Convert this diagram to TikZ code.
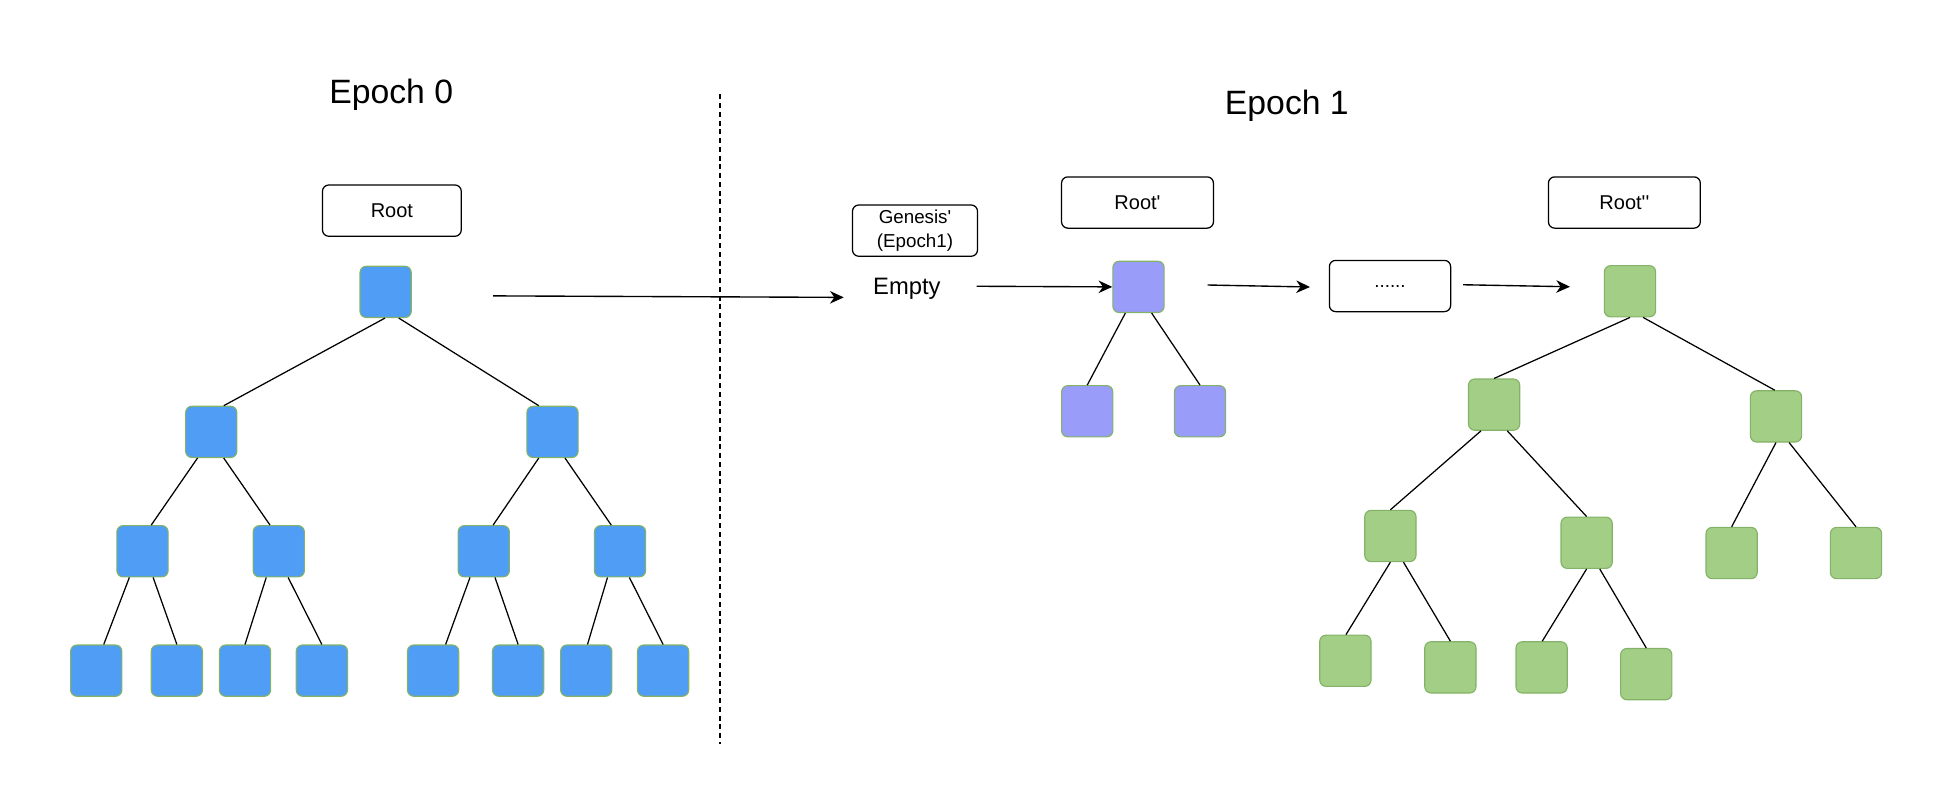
\documentclass[tikz,border=0pt]{standalone}
\usepackage{fontspec}
\setmainfont{Liberation Sans}
\usetikzlibrary{arrows.meta}
\definecolor{bluefill}{HTML}{4F9DF5}
\definecolor{purplefill}{HTML}{999CF9}
\definecolor{greenfill}{HTML}{A3CE85}
\definecolor{nodestroke}{HTML}{82B366}
\tikzset{
  sq/.style={draw=nodestroke, line width=0.9pt, rounded corners=5pt, minimum width=41pt, minimum height=41pt, inner sep=0pt},
  bsq/.style={sq, fill=bluefill},
  psq/.style={sq, fill=purplefill},
  gsq/.style={sq, fill=greenfill},
  lbl/.style={draw=black, line width=1pt, rounded corners=5pt, minimum height=41pt, inner sep=0pt, align=center, font=\fontsize{16}{19}\selectfont},
  title/.style={anchor=base, font=\fontsize{27}{32}\selectfont},
  edge/.style={line width=1pt},
  arr/.style={line width=1.1pt, -{Stealth[length=11pt,width=10pt,inset=3.5pt]}},
}
\begin{document}
\begin{tikzpicture}[x=1pt, y=-1pt]
\useasboundingbox (0,0) rectangle (1561.6,643.2);

% titles
\node[title] (t0) at (313,82.5) {Epoch 0};
\node[title] (t1) at (1029.5,91.5) {Epoch 1};

% divider
\coordinate (dtop) at (576,75.5);
\coordinate (dbot) at (576,595.5);
\draw[line width=1pt, dash pattern=on 4pt off 3pt] (dtop) -- (dbot);

% label boxes
\node[lbl, minimum width=111pt] (rootlbl) at (313.5,168.5) {Root};
\node[lbl, minimum width=100pt, font=\fontsize{15}{18.5}\selectfont] (genesis) at (732,184.5) {Genesis\textquotesingle\\(Epoch1)};
\node[lbl, minimum width=121.5pt] (rootplbl) at (910,162) {Root\textquotesingle};
\node[lbl, minimum width=121.5pt] (rootpplbl) at (1299.5,162) {Root\textquotesingle\textquotesingle};
\node[lbl, minimum width=97pt, font=\fontsize{15}{18}\selectfont] (dots) at (1112,228.8) {......};
\node[anchor=base, font=\fontsize{19}{22}\selectfont, inner sep=0pt] (empty) at (725.5,235.5) {Empty};

% Epoch 0 tree
\node[bsq] (b0) at (308.5,233.5) {};
\node[bsq] (b1) at (169,345.5) {};
\node[bsq] (b2) at (442,345.5) {};
\node[bsq] (b3) at (114,441) {};
\node[bsq] (b4) at (223,441) {};
\node[bsq] (b5) at (387,441) {};
\node[bsq] (b6) at (496,441) {};
\node[bsq] (b7) at (77,536.5) {};
\node[bsq] (b8) at (141.5,536.5) {};
\node[bsq] (b9) at (196,536.5) {};
\node[bsq] (b10) at (257.5,536.5) {};
\node[bsq] (b11) at (346.5,536.5) {};
\node[bsq] (b12) at (414.5,536.5) {};
\node[bsq] (b13) at (469,536.5) {};
\node[bsq] (b14) at (530.5,536.5) {};

\draw[edge] ([xshift=-0.5pt]b0.south) -- ([xshift=10pt]b1.north);
\draw[edge] ([xshift=10.5pt]b0.south) -- ([xshift=-11pt]b2.north);
\draw[edge] ([xshift=-11pt]b1.south) -- ([xshift=7pt]b3.north);
\draw[edge] ([xshift=10pt]b1.south) -- ([xshift=-7pt]b4.north);
\draw[edge] ([xshift=-11pt]b2.south) -- ([xshift=7.5pt]b5.north);
\draw[edge] ([xshift=10pt]b2.south) -- ([xshift=-7pt]b6.north);
\draw[edge] ([xshift=-10.5pt]b3.south) -- ([xshift=6pt]b7.north);
\draw[edge] ([xshift=8.5pt]b3.south) -- (b8.north);
\draw[edge] ([xshift=-10pt]b4.south) -- (b9.north);
\draw[edge] ([xshift=7.5pt]b4.south) -- (b10.north);
\draw[edge] ([xshift=-11pt]b5.south) -- ([xshift=10pt]b11.north);
\draw[edge] ([xshift=9pt]b5.south) -- (b12.north);
\draw[edge] ([xshift=-10pt]b6.south) -- ([xshift=1pt]b13.north);
\draw[edge] ([xshift=7.5pt]b6.south) -- (b14.north);

% Epoch 1 purple tree
\node[psq] (p0) at (910.8,229.5) {};
\node[psq] (p1) at (869.8,329) {};
\node[psq] (p2) at (960,329) {};
\draw[edge] ([xshift=-10.5pt]p0.south) -- (p1.north);
\draw[edge] ([xshift=10.5pt]p0.south) -- (p2.north);

% Epoch 1 green tree
\node[gsq] (g0) at (1304,233) {};
\node[gsq] (g1) at (1195.3,323.7) {};
\node[gsq] (g2) at (1420.8,333.1) {};
\node[gsq] (g3) at (1112.3,428.8) {};
\node[gsq] (g4) at (1269.3,434.2) {};
\node[gsq] (g5) at (1385.3,442.4) {};
\node[gsq] (g6) at (1484.8,442.4) {};
\node[gsq] (g7) at (1076.3,528.6) {};
\node[gsq] (g8) at (1160.3,533.9) {};
\node[gsq] (g9) at (1233.3,533.9) {};
\node[gsq] (g10) at (1317,539.3) {};
\draw[edge] ([xshift=0pt]g0.south) -- (g1.north);
\draw[edge] ([xshift=10.5pt]g0.south) -- ([xshift=-1pt]g2.north);
\draw[edge] ([xshift=-10.5pt]g1.south) -- (g3.north);
\draw[edge] ([xshift=10.5pt]g1.south) -- (g4.north);
\draw[edge] (g2.south) -- (g5.north);
\draw[edge] ([xshift=10.5pt]g2.south) -- (g6.north);
\draw[edge] (g3.south) -- ([xshift=0.5pt]g7.north);
\draw[edge] ([xshift=10.5pt]g3.south) -- (g8.north);
\draw[edge] (g4.south) -- ([xshift=0.5pt]g9.north);
\draw[edge] ([xshift=10.5pt]g4.south) -- (g10.north);

% arrows
\coordinate (a1s) at (394.5,236.7);
\coordinate (a1e) at (675,237.9);
\draw[arr] (a1s) -- (a1e);
\coordinate (a2s) at (781.3,229);
\draw[arr] (a2s) -- (p0.west);
\coordinate (a3s) at (966,228);
\coordinate (a3e) at (1048,229.6);
\draw[arr] (a3s) -- (a3e);
\coordinate (a4s) at (1170.5,227.8);
\coordinate (a4e) at (1256,229.4);
\draw[arr] (a4s) -- (a4e);
\end{tikzpicture}
\end{document}
